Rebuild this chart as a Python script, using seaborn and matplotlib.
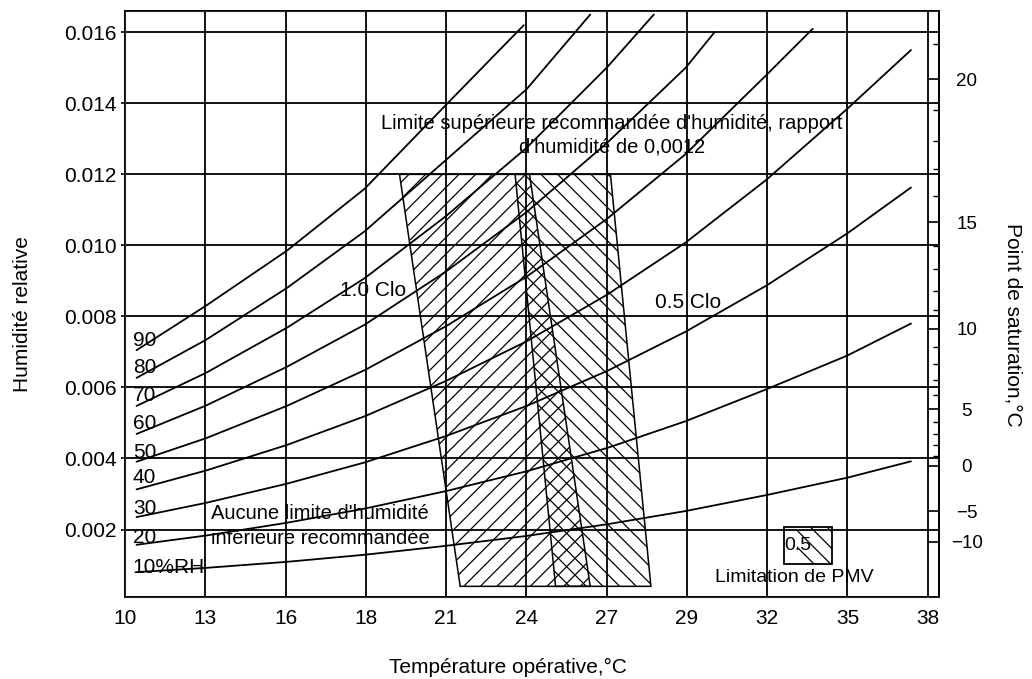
import pandas as pd
import seaborn as sns
from matplotlib import pyplot as plt

# operative temperature grid (degC, converted from 50..100 F) and its labels
temp_ticks = [10.0, 12.78, 15.56, 18.33, 21.11, 23.89, 26.67, 29.44, 32.22, 35.0, 37.78]
temp_labels = ["10", "13", "16", "18", "21", "24", "27", "29", "32", "35", "38"]

ratio_ticks = [0.002, 0.004, 0.006, 0.008, 0.010, 0.012, 0.014, 0.016]
ratio_labels = ["0.002", "0.004", "0.006", "0.008", "0.010", "0.012", "0.014", "0.016"]

# dew point scale on the right (humidity ratio at saturation)
dew_ticks = [0.00166, 0.00251, 0.0038, 0.00538, 0.00766, 0.01065, 0.01468]
dew_labels = ["\u221210", "\u22125", "0", "5", "10", "15", "20"]
dew_minor = [0.00407, 0.00437, 0.00469, 0.00503, 0.00579, 0.00621, 0.00665, 0.00713,
             0.00817, 0.00873, 0.00933, 0.00998, 0.01138, 0.01214, 0.01294, 0.0138, 0.01566]

# relative humidity curves
rh10_t = [10.4, 12.8, 15.6, 18.3, 21.1, 23.9, 26.7, 29.4, 32.2, 35.0, 37.2]
rh10_w = [0.00080, 0.00092, 0.00109, 0.00129, 0.00154, 0.00182, 0.00215, 0.00252, 0.00297, 0.00346, 0.00392]
rh20_t = [10.4, 12.8, 15.6, 18.3, 21.1, 23.9, 26.7, 29.4, 32.2, 35.0, 37.2]
rh20_w = [0.00157, 0.00183, 0.00219, 0.00259, 0.00308, 0.00364, 0.00430, 0.00505, 0.00595, 0.00690, 0.00780]
rh30_t = [10.4, 12.8, 15.6, 18.3, 21.1, 23.9, 26.7, 29.4, 32.2, 35.0, 37.2]
rh30_w = [0.00235, 0.00275, 0.00329, 0.00389, 0.00463, 0.00548, 0.00647, 0.00757, 0.00887, 0.01034, 0.01163]
rh40_t = [10.4, 12.8, 15.6, 18.3, 21.1, 23.9, 26.7, 29.4, 32.2, 35.0, 37.2]
rh40_w = [0.00313, 0.00366, 0.00438, 0.00519, 0.00618, 0.00730, 0.00862, 0.01008, 0.01185, 0.01385, 0.01550]
rh50_t = [10.4, 12.8, 15.6, 18.3, 21.1, 23.9, 26.7, 29.4, 32.2, 33.8]
rh50_w = [0.00391, 0.00457, 0.00548, 0.00649, 0.00772, 0.00912, 0.01076, 0.01257, 0.01480, 0.01610]
rh60_t = [10.4, 12.8, 15.6, 18.3, 21.1, 23.9, 26.7, 29.4, 30.4]
rh60_w = [0.00469, 0.00549, 0.00658, 0.00777, 0.00926, 0.01094, 0.01290, 0.01500, 0.01600]
rh70_t = [10.4, 12.8, 15.6, 18.3, 21.1, 23.9, 26.7, 28.3]
rh70_w = [0.00548, 0.00641, 0.00768, 0.00908, 0.01082, 0.01275, 0.01503, 0.01650]
rh80_t = [10.4, 12.8, 15.6, 18.3, 21.1, 23.9, 26.1]
rh80_w = [0.00627, 0.00734, 0.00880, 0.01040, 0.01240, 0.01440, 0.01650]
rh90_t = [10.4, 12.8, 15.6, 18.3, 21.1, 23.8]
rh90_w = [0.00705, 0.00830, 0.00985, 0.01160, 0.01395, 0.01620]

rh_names = ["10%RH", "20", "30", "40", "50", "60", "70", "80", "90"]
rh_label_w = [0.00093, 0.00177, 0.00259, 0.00346, 0.00417, 0.00499, 0.00577, 0.00656, 0.00732]

# comfort zones (corners: top-left, top-right, bottom-right, bottom-left)
winter_t = [19.5, 24.0, 26.1, 21.6]
winter_w = [0.012, 0.012, 0.0004, 0.0004]
summer_t = [23.5, 26.8, 28.2, 24.9]
summer_w = [0.012, 0.012, 0.0004, 0.0004]

# PMV limitation key box
key_t = [32.8, 34.45, 34.45, 32.8]
key_w = [0.00208, 0.00208, 0.00104, 0.00104]
key_hatch_t = [33.25, 34.45, 34.45, 33.25]


def build_curves():
    parts = []
    series = [(10, rh10_t, rh10_w), (20, rh20_t, rh20_w), (30, rh30_t, rh30_w),
              (40, rh40_t, rh40_w), (50, rh50_t, rh50_w), (60, rh60_t, rh60_w),
              (70, rh70_t, rh70_w), (80, rh80_t, rh80_w), (90, rh90_t, rh90_w)]
    for rh, t, w in series:
        parts.append(pd.DataFrame({"rh": rh, "temp": t, "w": w}))
    return pd.concat(parts, ignore_index=True)


def plot_chart(curves, file_name):
    sns.set_style("white")
    plt.rcParams["font.family"] = ["Liberation Sans", "DejaVu Sans"]
    plt.rcParams["hatch.linewidth"] = 0.9
    plt.rcParams["hatch.color"] = "black"
    plt.rcParams["text.color"] = "black"
    plt.rcParams["axes.labelcolor"] = "black"
    plt.rcParams["xtick.color"] = "black"
    plt.rcParams["ytick.color"] = "black"

    fig = plt.figure(figsize=(10.32, 6.79), dpi=100)
    ax = fig.add_axes([125 / 1032, 82 / 679, 814 / 1032, 586 / 679])

    ax.fill(winter_t, winter_w, facecolor="none", edgecolor="black", hatch="//", lw=1.1, zorder=2)
    ax.fill(summer_t, summer_w, facecolor="none", edgecolor="black", hatch="\\\\", lw=1.1, zorder=2)
    ax.fill(key_hatch_t, key_w, facecolor="none", edgecolor="black", hatch="\\\\", lw=0, zorder=2)
    ax.fill(key_t, key_w, facecolor="none", edgecolor="black", lw=1.3, zorder=3)

    sns.lineplot(data=curves, x="temp", y="w", units="rh", estimator=None, sort=False,
                 color="black", lw=1.3, legend=False, ax=ax, zorder=4)

    for name, w in zip(rh_names, rh_label_w):
        ax.text(10.27, w, name, fontsize=15, ha="left", va="center", zorder=5)

    ax.set_xlim(10, 38.17)
    ax.set_ylim(0.0001, 0.0166)
    ax.set_xticks(temp_ticks, temp_labels)
    ax.set_yticks(ratio_ticks, ratio_labels)
    ax.grid(True, color="black", lw=1.3)
    ax.tick_params(axis="x", labelsize=15, length=3, width=1.2, pad=6, color="black")
    ax.tick_params(axis="y", labelsize=15, length=3, width=1.2, pad=3, color="black")
    for side in ax.spines.values():
        side.set_color("black")
        side.set_linewidth(1.4)

    ax.set_xlabel("Température opérative,°C", fontsize=15)
    ax.xaxis.set_label_coords(0.47, -0.121)
    ax.xaxis.label.set_verticalalignment("center")
    ax.set_ylabel("Humidité relative", fontsize=15)
    ax.yaxis.set_label_coords(-0.1265, 0.483)
    ax.yaxis.label.set_verticalalignment("center")

    ax2 = ax.twinx()
    ax2.set_ylim(ax.get_ylim())
    ax2.set_yticks(dew_ticks, dew_labels)
    ax2.set_yticks(dew_minor, minor=True)
    ax2.tick_params(axis="y", which="major", direction="in", length=8, width=1.2,
                    labelsize=13.5, pad=20)
    ax2.tick_params(axis="y", which="minor", direction="in", length=4, width=1.0)
    for lab in ax2.get_yticklabels():
        lab.set_horizontalalignment("center")
    ax2.spines["right"].set_linewidth(1.4)
    ax2.spines["right"].set_color("black")
    ax2.set_ylabel("Point de saturation,°C", fontsize=15, rotation=-90)
    ax2.yaxis.set_label_coords(1.091, 0.464)
    ax2.yaxis.label.set_verticalalignment("center")

    ax.text(26.84, 0.0131, "Limite supérieure recommandée d'humidité, rapport\nd'humidité de 0,0012",
            fontsize=14.5, ha="center", va="center", linespacing=1.25, zorder=5)
    ax.text(18.57, 0.00873, "1.0 Clo", fontsize=15, ha="center", va="center", zorder=5)
    ax.text(29.48, 0.0084, "0.5 Clo", fontsize=15, ha="center", va="center", zorder=5)
    ax.text(12.99, 0.00245, "Aucune limite d'humidité", fontsize=14.5, ha="left", va="center", zorder=5)
    ax.text(12.99, 0.00175, "inférieure recommandée", fontsize=14.5, ha="left", va="center", zorder=5)
    ax.text(33.3, 0.00156, "0.5", fontsize=14, ha="center", va="center", zorder=5)
    ax.text(33.15, 0.00065, "Limitation de PMV", fontsize=14, ha="center", va="center", zorder=5)

    plt.savefig(file_name, dpi=100)


def main():
    curves = build_curves()
    plot_chart(curves, "out.png")


if __name__ == "__main__":
    main()
